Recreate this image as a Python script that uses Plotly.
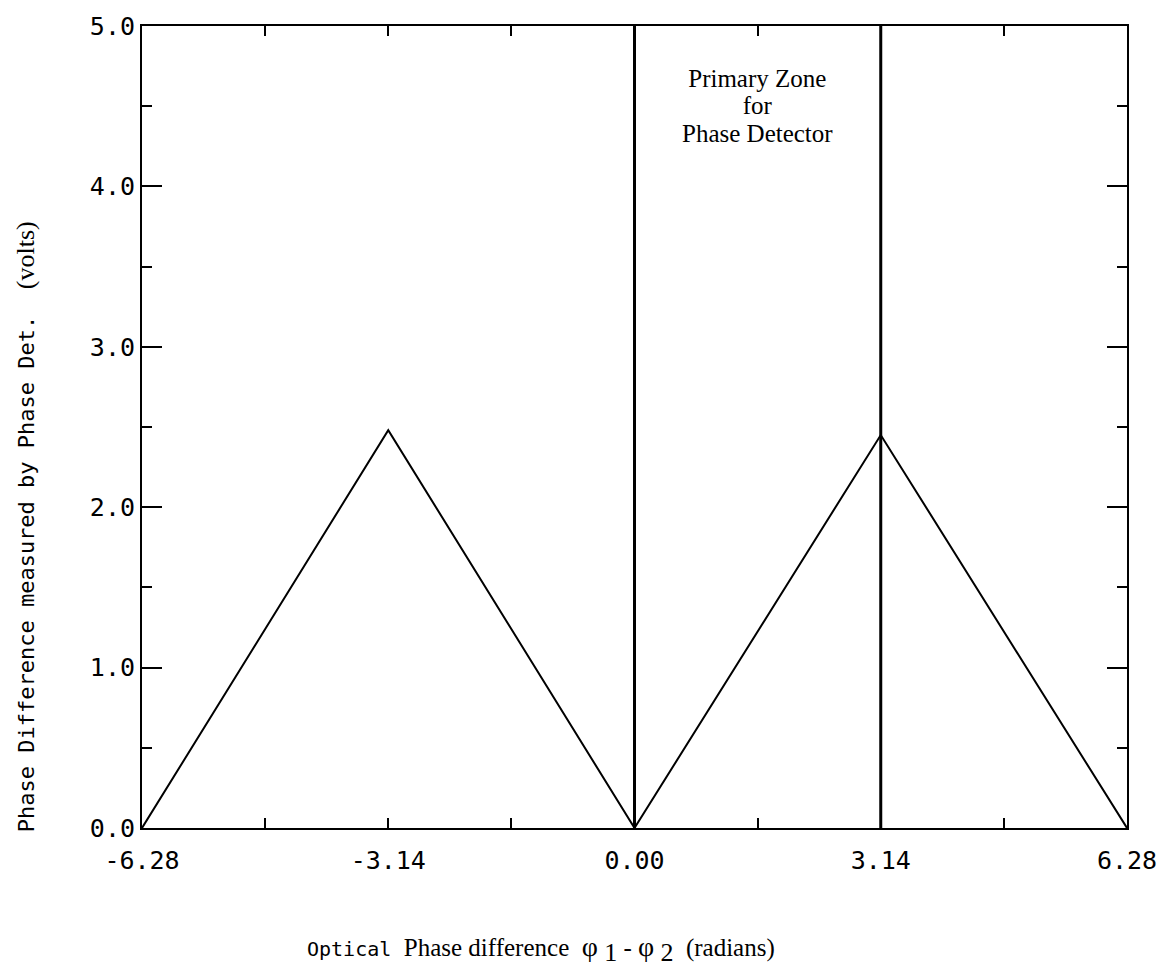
import plotly.graph_objects as go

# Data
phase_x = [-6.28, -3.14, 0.0, 3.14, 6.28]
volts_y = [0.0, 2.48, 0.0, 2.45, 0.0]
zone_x = [0.0, 3.14]          # boundaries of the primary zone
zone_y = [0.0, 5.0]
x_tickvals = [-6.28, -3.14, 0.0, 3.14, 6.28]
x_ticktext = ["-6.28", "-3.14", "0.00", "3.14", "6.28"]
y_tickvals = [0.0, 1.0, 2.0, 3.0, 4.0, 5.0]
y_ticktext = ["0.0", "1.0", "2.0", "3.0", "4.0", "5.0"]
zone_label_lines = ["Primary Zone", "for", "Phase Detector"]

MONO = "DejaVu Sans Mono"
SERIF = "Liberation Serif"

fig = go.Figure()
fig.add_trace(go.Scatter(x=phase_x, y=volts_y, mode="lines",
                         line=dict(color="black", width=2), showlegend=False))
for zx in zone_x:
    fig.add_trace(go.Scatter(x=[zx, zx], y=zone_y, mode="lines",
                             line=dict(color="black", width=3), showlegend=False))

zone_text = "<br>".join(f"<span style='font-size:25px'>{t}</span>" for t in zone_label_lines)
fig.add_annotation(x=1.57, y=4.50, xref="x", yref="y", text=zone_text,
                   showarrow=False, yanchor="middle", xanchor="center",
                   font=dict(family=SERIF, size=21, color="black"))

fig.add_annotation(x=-0.118, y=0, xref="paper", yref="paper",
                   text="Phase Difference measured by Phase Det.  "
                        f"<span style='font-family:{SERIF};font-size:26px'>(volts)</span>",
                   textangle=-90, showarrow=False, xanchor="center", yanchor="bottom",
                   yshift=-6, font=dict(family=MONO, size=22, color="black"))

fig.add_annotation(x=0.405, y=-0.151, xref="paper", yref="paper",
                   text=f"<span style='font-family:{MONO};font-size:20px'>Optical</span>  "
                        "Phase difference  "
                        "<span style='font-size:28px'>φ</span> "
                        "<sub><span style='font-size:26px'>1</span></sub> - "
                        "<span style='font-size:28px'>φ</span> "
                        "<sub><span style='font-size:26px'>2</span></sub>  (radians)",
                   showarrow=False, xanchor="center", yanchor="middle",
                   font=dict(family=SERIF, size=25, color="black"))

fig.update_layout(
    width=1169, height=975,
    margin=dict(l=142, r=39, t=22, b=147),
    plot_bgcolor="white", paper_bgcolor="white",
    xaxis=dict(range=[-6.28, 6.28], showgrid=False, zeroline=False,
               tickmode="array", tickvals=x_tickvals, ticktext=x_ticktext,
               ticks="inside", ticklen=10, tickwidth=2, tickcolor="black",
               minor=dict(dtick=1.57, tick0=-6.28, ticks="inside", ticklen=10,
                          tickwidth=2, tickcolor="black"),
               showline=True, linecolor="black", linewidth=2, mirror="ticks",
               ticklabelstandoff=9,
               tickfont=dict(family=MONO, size=25, color="black")),
    yaxis=dict(range=[0, 5], showgrid=False, zeroline=False,
               tickmode="array", tickvals=y_tickvals, ticktext=y_ticktext,
               ticks="inside", ticklen=20, tickwidth=2, tickcolor="black",
               minor=dict(dtick=0.5, tick0=0, ticks="inside", ticklen=10,
                          tickwidth=2, tickcolor="black"),
               showline=True, linecolor="black", linewidth=2, mirror="ticks",
               ticklabelstandoff=0,
               tickfont=dict(family=MONO, size=25, color="black")),
)

fig.write_html("out.html")
